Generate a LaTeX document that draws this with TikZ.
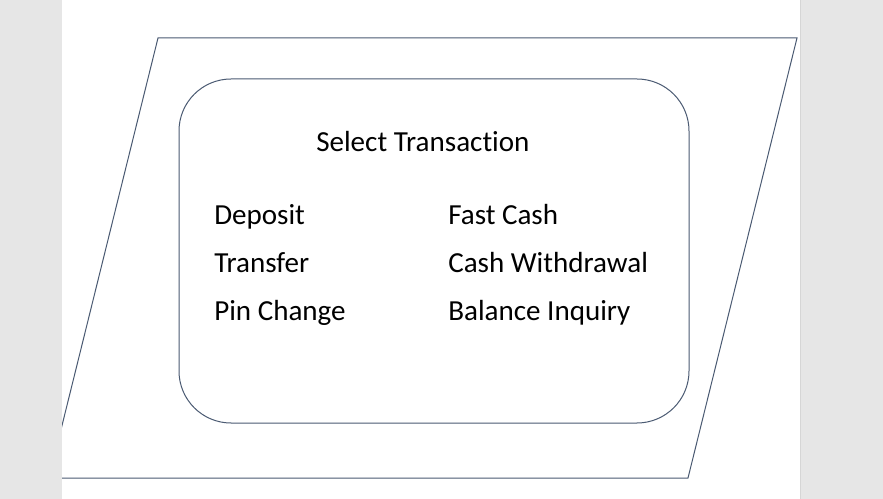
\documentclass[tikz,border=0pt]{standalone}
\usepackage{fontspec}
\setmainfont{Carlito}[RawFeature={-liga;-clig;-calt}]
\definecolor{edgeblue}{HTML}{4A5A72}
\definecolor{deskgray}{HTML}{E6E6E6}
\definecolor{pageedge}{HTML}{D6D6D6}
\tikzset{
  outline/.style={draw=edgeblue, line width=0.75pt},
  item/.style={anchor=base west, inner sep=0pt, font=\fontsize{21.8}{26}\selectfont}
}
\begin{document}
\begin{tikzpicture}[x=0.75pt,y=-0.75pt]
  % Fundo cinzento e a folha branca ao centro.
  \useasboundingbox (0,0) rectangle (883,499);
  \fill[deskgray] (0,0) rectangle (883,499);
  \fill[white] (62,0) rectangle (800,499);
  \draw[pageedge, line width=0.75pt] (800.5,0) -- (800.5,499);

  % Paralelogramo de entrada, cortado pela margem esquerda da folha.
  \begin{scope}
    \clip (62,0) rectangle (800,499);
    \coordinate (tl) at (158,38);
    \coordinate (tr) at (797,38);
    \coordinate (br) at (688,478);
    \coordinate (bl) at (49,478);
    \draw[outline] (tl) -- (tr) -- (br) -- (bl) -- cycle;
  \end{scope}

  % Caixa arredondada com o menu.
  \node[outline, rounded corners=39pt, minimum width=382.5pt, minimum height=258pt,
        inner sep=0pt] (menu) at (434,251) {};

  % Titulo e opcoes em duas colunas.
  \node[item] (title) at (316,151.5) {Select Transaction};
  \node[item] (deposit) at (214,224.5) {Deposit};
  \node[item] (transfer) at (214,272.5) {Transfer};
  \node[item] (pin) at (214,320.5) {Pin Change};
  \node[item] (fast) at (448,224.5) {Fast Cash};
  \node[item] (withdraw) at (448,272.5) {Cash Withdrawal};
  \node[item] (balance) at (448,320.5) {Balance Inquiry};
\end{tikzpicture}
\end{document}
